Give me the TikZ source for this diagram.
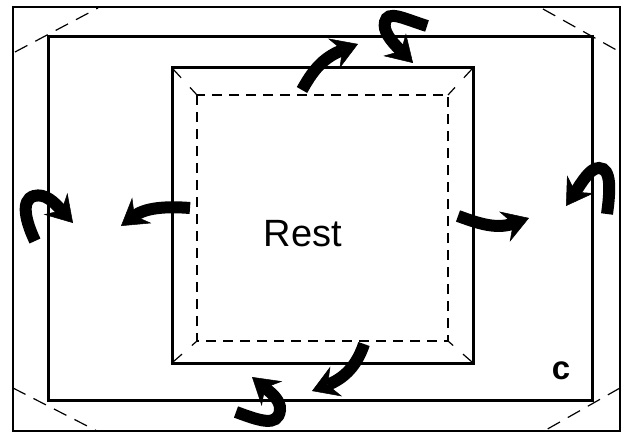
\documentclass[tikz,border=0pt]{standalone}
\usepackage{fontspec}
\setmainfont{Liberation Sans}
\usetikzlibrary{arrows.meta}
\tikzset{
  frame/.style={draw=black, line width=2.6pt},
  midframe/.style={draw=black, line width=3pt},
  innerframe/.style={draw=black, line width=3pt},
  dashbox/.style={draw=black, line width=1.3pt, dash pattern=on 10pt off 7pt},
  cornerdash/.style={draw=black, line width=1.2pt, dash pattern=on 14pt off 9pt},
  innerdiag/.style={draw=black, line width=1.2pt, dash pattern=on 12pt off 13pt},
  bigarrow/.style={draw=black, line width=12pt, line cap=butt,
    -{Stealth[length=26pt,width=32pt,inset=9pt,line width=0.5pt]}},
}
\begin{document}
\begin{tikzpicture}[x=1pt,y=-1pt]
\useasboundingbox (0,0) rectangle (623,433);
\fill[white] (0,0) rectangle (623,433);
% rectangles
\draw[frame] (13,7) rectangle (620,431);
\draw[midframe] (48,37) rectangle (592,400);
\draw[innerframe] (172,68) rectangle (473,363);
\draw[dashbox] (197,95) rectangle (448,341);
% outer corner dashes
\draw[cornerdash] (15,52) -- (98,8);
\draw[cornerdash] (543,9) -- (620,52);
\draw[cornerdash] (13,388) -- (97,431);
\draw[cornerdash] (620,388) -- (544,431);
% inner corner diagonals
\draw[innerdiag] (173,69) -- (197,95);
\draw[innerdiag] (472,69) -- (448,95);
\draw[innerdiag] (173,362) -- (197,341);
\draw[innerdiag] (472,362) -- (448,341);
% named ends of arrows
\coordinate (t1) at (302,90);   \coordinate (h1) at (358,44);
\coordinate (t2) at (427,26);   \coordinate (h2) at (413,63);
\coordinate (t3) at (190,208);  \coordinate (h3) at (121,226);
\coordinate (t4) at (35,241);   \coordinate (h4) at (73,223);
\coordinate (t5) at (458,216);  \coordinate (h5) at (529,218);
\coordinate (t6) at (607,214);  \coordinate (h6) at (566,206);
\coordinate (t7) at (364,344);  \coordinate (h7) at (312,391);
\coordinate (t8) at (236,412);  \coordinate (h8) at (252,377);
% arrows
\draw[bigarrow] (t1) .. controls (312,72) and (322,58) .. (h1);
\draw[bigarrow] (t2) .. controls (402,18) and (388,10) .. (385,22) .. controls (383,31) and (390,40) .. (h2);
\draw[bigarrow] (t3) .. controls (165,206) and (145,208) .. (h3);
\draw[bigarrow] (t4) .. controls (26,222) and (20,200) .. (34,196) .. controls (45,193) and (54,202) .. (h4);
\draw[bigarrow] (t5) .. controls (475,222) and (495,230) .. (h5);
\draw[bigarrow] (t6) .. controls (610,192) and (612,168) .. (599,168) .. controls (590,168) and (582,182) .. (h6);
\draw[bigarrow] (t7) .. controls (357,365) and (345,378) .. (h7);
\draw[bigarrow] (t8) .. controls (258,420) and (278,428) .. (280,410) .. controls (281,400) and (270,392) .. (h8);
% labels
\node[font=\fontsize{38}{40}\selectfont, anchor=base] (rest) at (303,246) {Rest};
\node[font=\fontsize{33}{35}\selectfont\bfseries, anchor=base] (c) at (561,379) {c};
\end{tikzpicture}
\end{document}
